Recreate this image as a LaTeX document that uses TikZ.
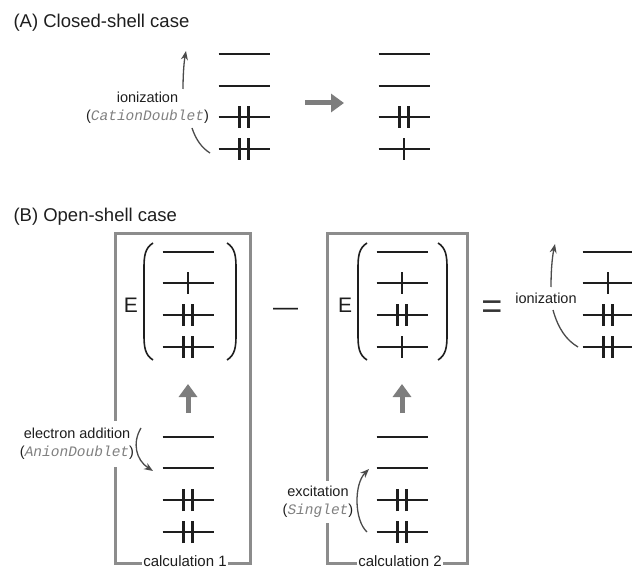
\documentclass[tikz,border=0pt]{standalone}
\usepackage{fontspec}
\setmainfont{Liberation Sans}
\setsansfont{Liberation Sans}
\setmonofont{Liberation Mono}
\usepackage{xcolor}
\usetikzlibrary{arrows.meta}
\definecolor{ink}{RGB}{30,30,30}
\definecolor{boxgray}{RGB}{140,140,140}
\definecolor{arrowgray}{RGB}{125,125,125}
\definecolor{codegray}{RGB}{128,128,128}
\newcommand{\code}[1]{\textcolor{codegray}{\ttfamily\itshape #1}}
\newcommand{\orbital}[3]{%
  \coordinate (#1) at (#2);
  \draw[orbline] ([xshift=-25.5pt]#1) -- ([xshift=25.5pt]#1);
  \ifnum#3=1 \draw[elecline] ([yshift=-11pt]#1) -- ([yshift=11pt]#1);\fi
  \ifnum#3=2
    \draw[elecline] ([xshift=-4.5pt,yshift=-11pt]#1) -- ([xshift=-4.5pt,yshift=11pt]#1);
    \draw[elecline] ([xshift=4.5pt,yshift=-11pt]#1) -- ([xshift=4.5pt,yshift=11pt]#1);
  \fi}
\tikzset{
  orbline/.style={ink, line width=1.4pt},
  elecline/.style={ink, line width=2.6pt},
  paren/.style={ink, line width=1.6pt},
  calcbox/.style={draw=boxgray, line width=3pt},
  bigarrow/.style={arrowgray, line width=5pt, -{Triangle[length=13pt,width=18pt]}},
  thinarrow/.style={ink!80, line width=1.3pt, -{Stealth[length=9pt,width=7pt]}},
  thinline/.style={ink!80, line width=1.3pt},
  lbl/.style={text=ink, font=\fontsize{14.5}{18}\selectfont, align=center},
  title/.style={anchor=base west, text=ink, font=\fontsize{18.5}{22}\selectfont},
}

\begin{document}
\begin{tikzpicture}[x=1pt, y=-1pt]
  \useasboundingbox (0,0) rectangle (632,569);

  \node[title] (titleA) at (10,28) {(A) Closed-shell case};
  \node[title] (titleB) at (10,222) {(B) Open-shell case};

  % closed shell
  \foreach \n/\y/\e in {1/54/0, 2/86/0, 3/117/2, 4/149/2} {\orbital{a\n}{244,\y}{\e}}
  \foreach \n/\y/\e in {1/54/0, 2/86/0, 3/117/2, 4/149/1} {\orbital{c\n}{404,\y}{\e}}
  \coordinate (gA0) at (305,103);
  \coordinate (gA1) at (344,103);
  \draw[bigarrow] (gA0) -- (gA1);

  \node[lbl] (ionA) at (147.5,108) {ionization\\(\code{CationDoublet})};
  \coordinate (ionA-up) at (183,89);
  \coordinate (ionA-tip) at (186,51);
  \coordinate (ionA-dn) at (192,128);
  \coordinate (ionA-end) at (210,153);
  \draw[thinarrow] (ionA-up) .. controls (183,75) and (184,62) .. (ionA-tip);
  \draw[thinline] (ionA-dn) .. controls (196,140) and (202,148) .. (ionA-end);

  % open shell
  \draw[calcbox] (115,234) rectangle (250,563);
  \draw[calcbox] (327,234) rectangle (467,563);

  \foreach \n/\y/\e in {1/252/0, 2/283/1, 3/315/2, 4/347/2} {\orbital{p\n}{188,\y}{\e}}
  \foreach \n/\y/\e in {1/437/0, 2/468/0, 3/500/2, 4/532/2} {\orbital{q\n}{188,\y}{\e}}
  \foreach \n/\y/\e in {1/252/0, 2/283/1, 3/315/2, 4/347/1} {\orbital{r\n}{402,\y}{\e}}
  \foreach \n/\y/\e in {1/437/0, 2/468/0, 3/500/2, 4/532/2} {\orbital{s\n}{402,\y}{\e}}
  \foreach \n/\y/\e in {1/252/0, 2/283/1, 3/315/2, 4/347/2} {\orbital{t\n}{608,\y}{\e}}

  \foreach \l/\r in {144/236, 358/447} {
    \draw[paren] (\l+9,243) .. controls (\l+1,248) and (\l,256) .. (\l,268)
      -- (\l,335) .. controls (\l,347) and (\l+1,355) .. (\l+9,360);
    \draw[paren] (\r-9,243) .. controls (\r-1,248) and (\r,256) .. (\r,268)
      -- (\r,335) .. controls (\r,347) and (\r-1,355) .. (\r-9,360);
  }
  \node[text=ink, font=\fontsize{21}{21}\selectfont] (E1) at (131,305) {E};
  \node[text=ink, font=\fontsize{21}{21}\selectfont] (E2) at (345,305) {E};
  \node[text=ink, font=\fontsize{25}{25}\selectfont] (minus) at (285.5,312) {—};
  \node[text=ink!90, font=\fontsize{36}{36}\selectfont] (equals) at (492,309.5) {=};

  \draw[bigarrow] (188,413) -- (188,384);
  \draw[bigarrow] (402,413) -- (402,384);

  \node[lbl, fill=white, inner sep=7pt] (addn) at (77,444) {electron addition\\(\code{AnionDoublet})};
  \coordinate (addn-top) at (141,428);
  \coordinate (addn-tip) at (153,471);
  \draw[thinarrow] (addn-top) .. controls (132,443) and (136,460) .. (addn-tip);

  \node[lbl, fill=white, inner sep=5pt] (exc) at (318,502) {excitation\\(\code{Singlet})};
  \coordinate (exc-low) at (367,532);
  \coordinate (exc-tip) at (369,469);
  \draw[thinarrow] (exc-low) .. controls (354,520) and (354,484) .. (exc-tip);

  \node[lbl] (ionB) at (546,298) {ionization};
  \coordinate (ionB-up) at (551,287);
  \coordinate (ionB-tip) at (555,244);
  \coordinate (ionB-dn) at (553,310);
  \coordinate (ionB-end) at (578,347);
  \draw[thinarrow] (ionB-up) .. controls (551,272) and (552,258) .. (ionB-tip);
  \draw[thinline] (ionB-dn) .. controls (558,328) and (566,340) .. (ionB-end);

  \node[lbl, font=\fontsize{15}{18}\selectfont, fill=white, inner sep=1.5pt, anchor=base] (calc1) at (185,566) {calculation 1};
  \node[lbl, font=\fontsize{15}{18}\selectfont, fill=white, inner sep=1.5pt, anchor=base] (calc2) at (400,566) {calculation 2};
\end{tikzpicture}
\end{document}
